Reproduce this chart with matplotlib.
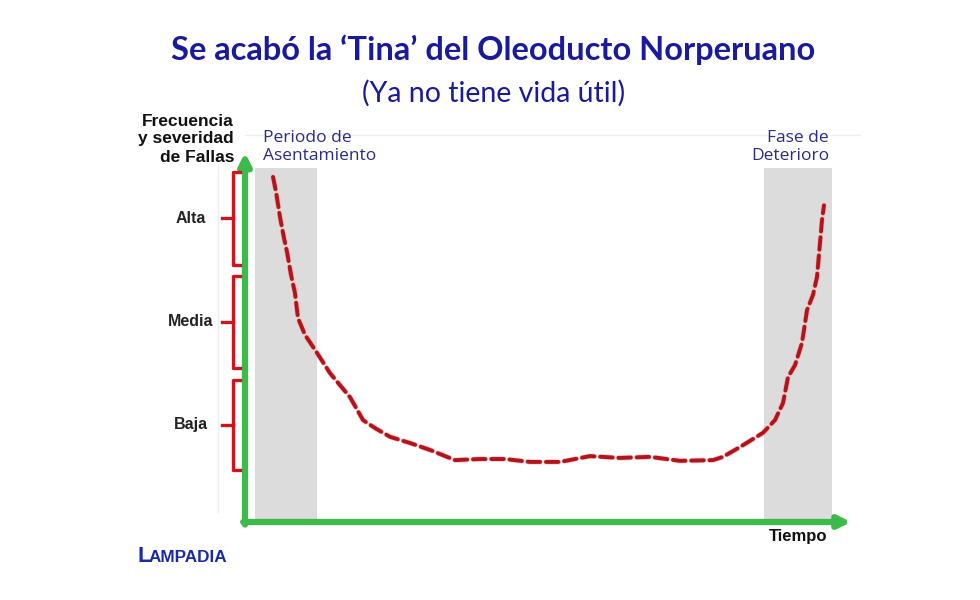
import matplotlib
matplotlib.use("Agg")
import matplotlib.pyplot as plt
from matplotlib.lines import Line2D
import matplotlib.patheffects as pe
import numpy as np

# ---- data ----
title = "Se acabó la ‘Tina’ del Oleoducto Norperuano"
subtitle = "(Ya no tiene vida útil)"
time_vals = [4.67, 5.17, 5.83, 6.5, 7.0, 7.67, 8.33, 8.83, 10.0, 11.67, 14.17, 15.83,
             17.5, 19.67, 21.67, 24.17, 27.5, 30.83, 35.0, 39.17, 43.33, 47.5, 52.5,
             57.5, 62.5, 67.5, 72.5, 78.0, 79.67, 82.5, 86.33, 88.33, 89.67, 90.5,
             91.67, 92.83, 93.67, 94.67, 95.33, 95.83, 96.17, 96.5]
failure_vals = [9.48, 9.07, 8.38, 7.80, 7.42, 6.79, 6.29, 5.60, 5.14, 4.73, 4.09, 3.76,
                3.43, 2.80, 2.58, 2.34, 2.17, 1.98, 1.70, 1.73, 1.73, 1.65, 1.65,
                1.81, 1.76, 1.79, 1.68, 1.70, 1.79, 2.06, 2.45, 2.80, 3.27, 3.98,
                4.31, 4.92, 5.82, 6.24, 6.73, 7.66, 8.30, 8.70]
levels = ["Alta", "Media", "Baja"]
level_low = [7.06, 4.23, 1.43]
level_high = [9.62, 6.76, 3.90]
phase_labels = ["Periodo de\nAsentamiento", "Fase de\nDeterioro"]
phase_start = [1.67, 86.5]
phase_end = [12.0, 97.8]
phase_top = 9.73
x_label = "Tiempo"
y_label = "Frecuencia\ny severidad\nde Fallas"

W, H = 980, 600
fig = plt.figure(figsize=(W / 100, H / 100), dpi=100)
fig.patch.set_facecolor("white")
ax = fig.add_axes([245 / W, (H - 522) / H, 600 / W, 364 / H])
ax.set_xlim(0, 100)
ax.set_ylim(0, 10)
for s in ax.spines.values():
    s.set_visible(False)
ax.set_facecolor("none")

blue_title = "#1a1a9c"
phase_blue = "#2b2b86"
green = "#3dbb4a"
green_dark = "#1f7a2a"
red = "#b3131b"
bracket_red = "#d0141c"

# shaded phases
for a, b in zip(phase_start, phase_end):
    ax.axvspan(a, b, ymin=0.005, ymax=phase_top / 10, color="#dcdcdc", zorder=1, lw=0)

# ticks
ax.set_xticks(np.arange(7.1, 100, 7.1))
ax.set_yticks(np.arange(0.72, 9.9, 0.72))
ax.tick_params(length=2, width=1.2, color=green_dark, direction="inout",
               labelbottom=False, labelleft=False)

# axes arrows
arrow_kw = dict(arrowstyle="-|>,head_length=0.7,head_width=0.35", color=green, lw=4.5,
                shrinkA=0, shrinkB=0)
ax.annotate("", xy=(101, 0), xytext=(-0.3, 0), arrowprops=arrow_kw,
            annotation_clip=False, zorder=3)
ax.annotate("", xy=(0, 10.15), xytext=(0, -0.07), arrowprops=arrow_kw,
            annotation_clip=False, zorder=3)

# curve
ax.plot(time_vals, failure_vals, color=red, lw=2.8, ls=(0, (3.2, 1.5)), zorder=4,
        dash_capstyle="round",
        path_effects=[pe.Stroke(linewidth=3.8, foreground="#ff9a9a", alpha=0.6), pe.Normal()])

# level brackets
bx, hook, tick = -2.0, -0.9, -3.8
for lab, lo, hi in zip(levels, level_low, level_high):
    mid = (lo + hi) / 2
    ax.plot([hook, bx, bx, hook], [hi, hi, lo, lo], color=bracket_red, lw=2.4,
            clip_on=False, zorder=3, solid_joinstyle="round")
    ax.plot([tick, bx], [mid, mid], color=bracket_red, lw=2.4, clip_on=False, zorder=3)
    ax.text(-9.0, mid, lab, ha="center", va="center", fontsize=11.5,
            fontweight="bold", family="Liberation Sans", color="#222222")

# faint guide lines
fig.add_artist(Line2D([245 / W, 860 / W], [1 - 135 / H] * 2, color="#eeeeee", lw=1))
fig.add_artist(Line2D([218 / W] * 2, [1 - 165 / H, 1 - 512 / H], color="#eeeeee", lw=1))

# phase labels
fig.text(263 / W, 1 - 147 / H, phase_labels[0], ha="left", va="center",
         fontsize=12.5, color=phase_blue, family="Open Sans", linespacing=1.12)
fig.text(829 / W, 1 - 147 / H, phase_labels[1], ha="right", va="center",
         fontsize=12.5, color=phase_blue, family="Open Sans", linespacing=1.12)

# titles
fig.text(493 / W, 1 - 50 / H, title, ha="center", va="center", fontsize=23.5,
         fontweight="bold", color=blue_title, family="Lato")
fig.text(494 / W, 1 - 93 / H, subtitle, ha="center", va="center", fontsize=20.5,
         color=blue_title, family="Lato")

# axis labels
fig.text(234 / W, 1 - 139 / H, y_label, ha="right", va="center", fontsize=12.5,
         fontweight="bold", family="Liberation Sans", color="#111111", linespacing=1.25)
fig.text(798 / W, 1 - 537 / H, x_label, ha="center", va="center", fontsize=12,
         fontweight="bold", family="Liberation Sans", color="#111111")

# logo
fig.text(137 / W, 1 - 556 / H, "L", ha="left", va="center", fontsize=16,
         fontweight="bold", family="Liberation Sans", color="#1a2aa8")
fig.text(149 / W, 1 - 557.5 / H, "AMPADIA", ha="left", va="center", fontsize=12.3,
         fontweight="bold", family="Liberation Sans", color="#1a2aa8")

fig.savefig("out.png", dpi=100, facecolor="white")
